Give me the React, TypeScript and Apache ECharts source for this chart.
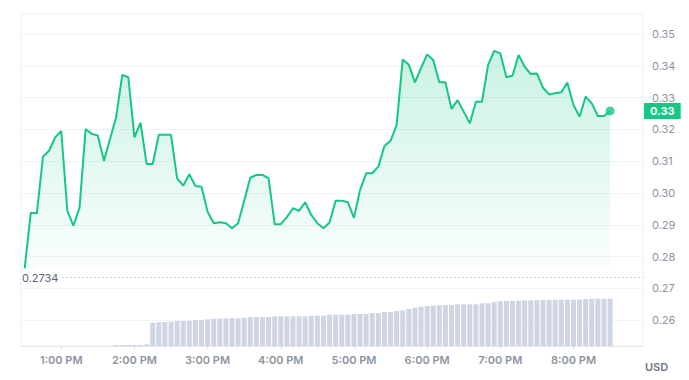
import React, { useEffect, useRef } from "react";
import * as echarts from "echarts";

// 5-minute price samples starting at 12:30 PM (minutes since midnight)
const START_MINUTE = 750;
const STEP_MINUTES = 5;

const prices = [
  0.2763, 0.2938, 0.2936, 0.3114, 0.3133, 0.3175, 0.3195, 0.2944, 0.2897, 0.2954,
  0.3201, 0.3186, 0.3181, 0.3101, 0.317, 0.3238, 0.3371, 0.3364, 0.3175, 0.3221,
  0.3091, 0.3091, 0.3183, 0.3183, 0.3183, 0.3046, 0.3023, 0.3059, 0.3022, 0.302,
  0.2941, 0.2905, 0.2908, 0.2905, 0.2889, 0.2905, 0.2976, 0.3048, 0.3057, 0.3057,
  0.3046, 0.2902, 0.2902, 0.2924, 0.2952, 0.2944, 0.2971, 0.2931, 0.2905, 0.2889,
  0.2907, 0.2976, 0.2976, 0.2971, 0.2922, 0.3009, 0.3062, 0.3062, 0.3083, 0.3148,
  0.3164, 0.3214, 0.342, 0.3403, 0.3348, 0.3393, 0.3436, 0.3418, 0.3348, 0.3348,
  0.3264, 0.3292, 0.3256, 0.3219, 0.3287, 0.3287, 0.3403, 0.3447, 0.3439, 0.3364,
  0.3369, 0.3434, 0.3397, 0.3374, 0.3376, 0.3331, 0.331, 0.3314, 0.3317, 0.3347,
  0.3277, 0.324, 0.3303, 0.3282, 0.3242, 0.3242, 0.3258,
];

// volume (arbitrary units), same 5-minute buckets
const volumes = [
  0, 0, 0, 0, 0, 0, 0, 0, 0, 0,
  0, 0, 0, 0, 0, 1, 1, 1, 1, 1,
  1.7, 23.3, 23.7, 24, 24.3, 25, 25, 25, 26, 26,
  26.7, 27.3, 27.3, 27.7, 27.7, 27.7, 28.3, 29, 29, 29,
  29, 29.7, 29.7, 29.7, 29.7, 29.7, 29.7, 30.3, 30.3, 30.3,
  31.3, 31.3, 31.3, 31.3, 32, 32, 32, 33, 33, 34,
  34, 35, 35.7, 37, 38.3, 39.3, 40, 40.3, 40.7, 41,
  41, 41.7, 41.7, 41.7, 41.7, 42.7, 42.7, 44, 45, 45,
  45, 45.3, 45.7, 45.7, 45.7, 46, 46.3, 46.3, 46.3, 46.3,
  46.3, 46.3, 47, 47.3, 47.3, 47.3, 47.3,
];

const hourTicks = [780, 840, 900, 960, 1020, 1080, 1140, 1200];
const priceTicks = [0.26, 0.27, 0.28, 0.29, 0.3, 0.31, 0.32, 0.33, 0.34, 0.35];
const REFERENCE_PRICE = 0.2734;

const X_MIN = 747;
const X_MAX = 1257;
const Y_MIN = 0.25189;
const Y_MAX = 0.35629;
const VOL_MAX = 332;

const GREEN = "#16c784";
const FONT = "Inter, 'Noto Sans', sans-serif";

function fmtTime(m: number): string {
  const h = Math.floor(m / 60);
  const mm = m % 60;
  const h12 = h > 12 ? h - 12 : h === 0 ? 12 : h;
  return `${h12}:${String(mm).padStart(2, "0")} ${h >= 12 ? "PM" : "AM"}`;
}

export default function App() {
  const ref = useRef<HTMLDivElement>(null);

  useEffect(() => {
    document.body.style.margin = "0";
    if (!ref.current) return;
    const chart = echarts.init(ref.current, null, { renderer: "svg" });

    const times = prices.map((_, i) => START_MINUTE + i * STEP_MINUTES);
    const priceData = prices.map((p, i) => [times[i], p]);
    const volData = volumes
      .map((v, i) => [times[i], v])
      .filter((d) => d[1] > 0);
    const last = priceData[priceData.length - 1];
    const minPrice = Math.min(...prices);

    const gridBase = { left: 21, right: 46, top: 14, bottom: 34 };

    chart.setOption({
      animation: false,
      grid: [
        { ...gridBase, show: true, borderColor: "#eceef2", borderWidth: 1, backgroundColor: "transparent" },
        { ...gridBase, show: false },
      ],
      xAxis: [
        {
          type: "value",
          gridIndex: 0,
          min: X_MIN,
          max: X_MAX,
          axisLine: { show: true, lineStyle: { color: "#e3e6eb" } },
          axisTick: {
            show: true,
            customValues: hourTicks,
            length: 3,
            lineStyle: { color: "#d5d9e0" },
          },
          axisLabel: {
            customValues: hourTicks,
            formatter: (v: number) => fmtTime(v),
            color: "#8d94a1",
            fontSize: 11,
            fontWeight: 600,
            fontFamily: FONT,
            margin: 8,
          },
          splitLine: { show: false },
        },
        {
          type: "value",
          gridIndex: 1,
          min: X_MIN,
          max: X_MAX,
          show: false,
        },
      ],
      yAxis: [
        {
          type: "value",
          gridIndex: 0,
          position: "right",
          min: Y_MIN,
          max: Y_MAX,
          axisLine: { show: false },
          axisTick: { show: false, customValues: priceTicks },
          axisLabel: {
            customValues: priceTicks,
            formatter: (v: number) => v.toFixed(2),
            color: "#8d94a1",
            fontSize: 11,
            fontFamily: FONT,
            margin: 9,
          },
          splitLine: { show: true, lineStyle: { color: "#f1f2f4", width: 1 } },
        },
        {
          type: "value",
          gridIndex: 1,
          min: 0,
          max: VOL_MAX,
          show: false,
        },
      ],
      series: [
        {
          type: "bar",
          xAxisIndex: 1,
          yAxisIndex: 1,
          data: volData,
          barWidth: 5,
          itemStyle: { color: "#cfd5e2" },
          silent: true,
        },
        {
          type: "line",
          xAxisIndex: 0,
          yAxisIndex: 0,
          data: priceData,
          showSymbol: false,
          symbol: "none",
          lineStyle: { color: GREEN, width: 2 },
          areaStyle: {
            origin: minPrice,
            color: new echarts.graphic.LinearGradient(0, 0, 0, 1, [
              { offset: 0, color: "rgba(22,199,132,0.32)" },
              { offset: 1, color: "rgba(22,199,132,0.03)" },
            ]),
          },
          z: 3,
          markLine: {
            silent: true,
            symbol: ["none", "none"],
            z: 10,
            data: [
              [
                {
                  coord: [781, REFERENCE_PRICE],
                  lineStyle: { type: [1, 3], color: "#9aa1ad", width: 1 },
                  label: {
                    show: true,
                    position: "start",
                    formatter: String(REFERENCE_PRICE),
                    color: "#58667e",
                    fontSize: 11,
                    fontFamily: FONT,
                    distance: 4,
                  },
                },
                { coord: [X_MAX, REFERENCE_PRICE] },
              ],
            ],
          },
        },
        {
          type: "line",
          xAxisIndex: 0,
          yAxisIndex: 0,
          data: [],
          silent: true,
          z: 12,
          markLine: {
            silent: true,
            symbol: ["none", "none"],
            z: 12,
            data: [
              [
                {
                  coord: [X_MIN, last[1]],
                  lineStyle: { color: "rgba(0,0,0,0)", width: 0 },
                  label: {
                    show: true,
                    position: "end",
                    formatter: (last[1] as number).toFixed(2),
                    backgroundColor: GREEN,
                    color: "#ffffff",
                    fontWeight: 700,
                    fontSize: 11,
                    fontFamily: FONT,
                    padding: [3, 6, 2, 6],
                    distance: 1,
                  },
                },
                { coord: [X_MAX, last[1]] },
              ],
            ],
          },
        },
        {
          type: "scatter",
          xAxisIndex: 0,
          yAxisIndex: 0,
          data: [last],
          symbol: "circle",
          symbolSize: 9,
          itemStyle: { color: GREEN },
          z: 5,
          silent: true,
        },
      ],
      graphic: [
        {
          type: "text",
          left: 645,
          top: 361,
          style: {
            text: "USD",
            fill: "#6f7785",
            font: `600 11px ${FONT}`,
          },
        },
      ],
    });

    return () => chart.dispose();
  }, []);

  return (
    <div
      ref={ref}
      style={{ position: "absolute", left: 0, top: 0, width: 689, height: 380 }}
    />
  );
}
